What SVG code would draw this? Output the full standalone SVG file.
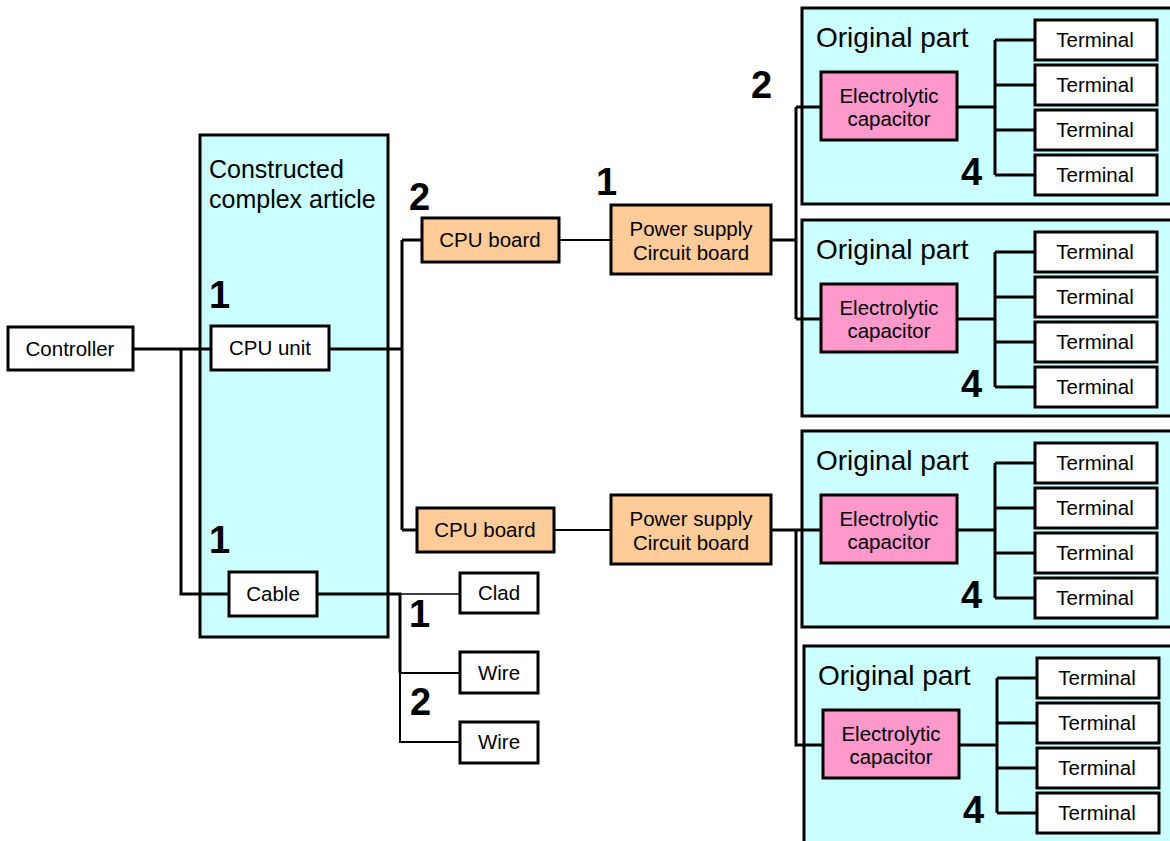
<svg xmlns="http://www.w3.org/2000/svg" width="1170" height="841" viewBox="0 0 1170 841">
<style>
text{font-family:"Liberation Sans",Arial,sans-serif;fill:#000}
.lbl{font-size:20.5px;text-anchor:middle}
.big{font-size:28px}
.mid{font-size:25px}
.num{font-size:38px;font-weight:bold}
.box{fill:#fff;stroke:#000;stroke-width:3}
.cyan{fill:#ccffff;stroke:#000;stroke-width:3}
.org{fill:#ffcc99;stroke:#000;stroke-width:3}
.pink{fill:#ff99cc;stroke:#000;stroke-width:3}
.c{fill:none;stroke:#000;stroke-width:3}
.c2{fill:none;stroke:#000;stroke-width:2}
.c1{fill:none;stroke:#000;stroke-width:1.5}
</style>
<rect width="1170" height="841" fill="#fff"/>
<g id="article">
<rect class="cyan" x="200" y="135" width="188" height="502"/>
<text class="mid" x="209" y="178">Constructed</text>
<text class="mid" x="209" y="208">complex article</text>
</g>
<g id="part1" transform="translate(0,0)">
<rect class="cyan" x="802" y="8" width="380" height="196"/>
<text class="big" x="816" y="47">Original part</text>
</g>
<g id="part2" transform="translate(0,212)">
<rect class="cyan" x="802" y="8" width="380" height="196"/>
<text class="big" x="816" y="47">Original part</text>
</g>
<g id="part3" transform="translate(0,423)">
<rect class="cyan" x="802" y="8" width="380" height="196"/>
<text class="big" x="816" y="47">Original part</text>
</g>
<g id="part4" transform="translate(2,638)">
<rect class="cyan" x="802" y="8" width="380" height="220"/>
<text class="big" x="816" y="47">Original part</text>
</g>
<g id="connectors">
<path class="c" d="M133,349H211M181,349V594H229M329,349H402M402,240V530M402,240H422M402,530H417"/>
<path class="c2" d="M559,240H611M554,530H611"/>
<path class="c" d="M771,240H796M796,107V319M796,107H821M796,319H821"/>
<path class="c" d="M771,530H822M796,530V745H823"/>
<path class="c" d="M317,594H400V673"/>
<path class="c1" d="M400,594H460"/>
<path class="c2" d="M400,673H460M400,673V742H460"/>
<g id="p1lines"><path class="c" d="M957,107H995M995,40V175M995,40H1035M995,85H1035M995,130H1035M995,175H1035"/></g>
<g transform="translate(0,212)"><path class="c" d="M957,107H995M995,40V175M995,40H1035M995,85H1035M995,130H1035M995,175H1035"/></g>
<g transform="translate(0,423)"><path class="c" d="M957,107H995M995,40V175M995,40H1035M995,85H1035M995,130H1035M995,175H1035"/></g>
<g transform="translate(2,638)"><path class="c" d="M957,107H995M995,40V175M995,40H1035M995,85H1035M995,130H1035M995,175H1035"/></g>
</g>
<g id="controller"><rect class="box" x="8" y="327" width="125" height="43"/><text class="lbl" x="70" y="356">Controller</text></g>
<g id="cpuunit"><rect class="box" x="211" y="326" width="118" height="44"/><text class="lbl" x="270" y="355">CPU unit</text></g>
<g id="cable"><rect class="box" x="229" y="572" width="88" height="44"/><text class="lbl" x="273" y="601">Cable</text></g>
<g id="clad"><rect class="box" x="460" y="573" width="78" height="40"/><text class="lbl" x="499" y="600">Clad</text></g>
<g id="wire1"><rect class="box" x="460" y="652" width="78" height="41"/><text class="lbl" x="499" y="680">Wire</text></g>
<g id="wire2"><rect class="box" x="460" y="722" width="78" height="41"/><text class="lbl" x="499" y="749">Wire</text></g>
<g id="cpuboard1"><rect class="org" x="422" y="218" width="137" height="44"/><text class="lbl" x="490" y="247">CPU board</text></g>
<g id="cpuboard2"><rect class="org" x="417" y="508" width="137" height="44"/><text class="lbl" x="485" y="537">CPU board</text></g>
<g id="psu1"><rect class="org" x="611" y="205" width="160" height="69"/><text class="lbl" x="691" y="236">Power supply</text><text class="lbl" x="691" y="260">Circuit board</text></g>
<g id="psu2"><rect class="org" x="611" y="495" width="160" height="69"/><text class="lbl" x="691" y="526">Power supply</text><text class="lbl" x="691" y="550">Circuit board</text></g>
<g id="p1nodes">
<g id="cap1"><rect class="pink" x="821" y="72" width="136" height="68"/><text class="lbl" x="889" y="103">Electrolytic</text><text class="lbl" x="889" y="126">capacitor</text></g>
<g id="t1a"><rect class="box" x="1035" y="20" width="122" height="40"/><text class="lbl" x="1095" y="47">Terminal</text></g>
<g id="t1b"><rect class="box" x="1035" y="65" width="122" height="40"/><text class="lbl" x="1095" y="92">Terminal</text></g>
<g id="t1c"><rect class="box" x="1035" y="110" width="122" height="40"/><text class="lbl" x="1095" y="137">Terminal</text></g>
<g id="t1d"><rect class="box" x="1035" y="155" width="122" height="40"/><text class="lbl" x="1095" y="182">Terminal</text></g>
<text class="num" x="961" y="185">4</text>
</g>
<g id="p2nodes" transform="translate(0,212)">
<g id="cap2"><rect class="pink" x="821" y="72" width="136" height="68"/><text class="lbl" x="889" y="103">Electrolytic</text><text class="lbl" x="889" y="126">capacitor</text></g>
<g id="t2a"><rect class="box" x="1035" y="20" width="122" height="40"/><text class="lbl" x="1095" y="47">Terminal</text></g>
<g id="t2b"><rect class="box" x="1035" y="65" width="122" height="40"/><text class="lbl" x="1095" y="92">Terminal</text></g>
<g id="t2c"><rect class="box" x="1035" y="110" width="122" height="40"/><text class="lbl" x="1095" y="137">Terminal</text></g>
<g id="t2d"><rect class="box" x="1035" y="155" width="122" height="40"/><text class="lbl" x="1095" y="182">Terminal</text></g>
<text class="num" x="961" y="185">4</text>
</g>
<g id="p3nodes" transform="translate(0,423)">
<g id="cap3"><rect class="pink" x="821" y="72" width="136" height="68"/><text class="lbl" x="889" y="103">Electrolytic</text><text class="lbl" x="889" y="126">capacitor</text></g>
<g id="t3a"><rect class="box" x="1035" y="20" width="122" height="40"/><text class="lbl" x="1095" y="47">Terminal</text></g>
<g id="t3b"><rect class="box" x="1035" y="65" width="122" height="40"/><text class="lbl" x="1095" y="92">Terminal</text></g>
<g id="t3c"><rect class="box" x="1035" y="110" width="122" height="40"/><text class="lbl" x="1095" y="137">Terminal</text></g>
<g id="t3d"><rect class="box" x="1035" y="155" width="122" height="40"/><text class="lbl" x="1095" y="182">Terminal</text></g>
<text class="num" x="961" y="185">4</text>
</g>
<g id="p4nodes" transform="translate(2,638)">
<g id="cap4"><rect class="pink" x="821" y="72" width="136" height="68"/><text class="lbl" x="889" y="103">Electrolytic</text><text class="lbl" x="889" y="126">capacitor</text></g>
<g id="t4a"><rect class="box" x="1035" y="20" width="122" height="40"/><text class="lbl" x="1095" y="47">Terminal</text></g>
<g id="t4b"><rect class="box" x="1035" y="65" width="122" height="40"/><text class="lbl" x="1095" y="92">Terminal</text></g>
<g id="t4c"><rect class="box" x="1035" y="110" width="122" height="40"/><text class="lbl" x="1095" y="137">Terminal</text></g>
<g id="t4d"><rect class="box" x="1035" y="155" width="122" height="40"/><text class="lbl" x="1095" y="182">Terminal</text></g>
<text class="num" x="961" y="185">4</text>
</g>
<g id="numbers">
<text class="num" x="209" y="308">1</text>
<text class="num" x="209" y="553">1</text>
<text class="num" x="409" y="210">2</text>
<text class="num" x="596" y="195">1</text>
<text class="num" x="751" y="98">2</text>
<text class="num" x="409" y="627">1</text>
<text class="num" x="410" y="715">2</text>
</g>
</svg>
